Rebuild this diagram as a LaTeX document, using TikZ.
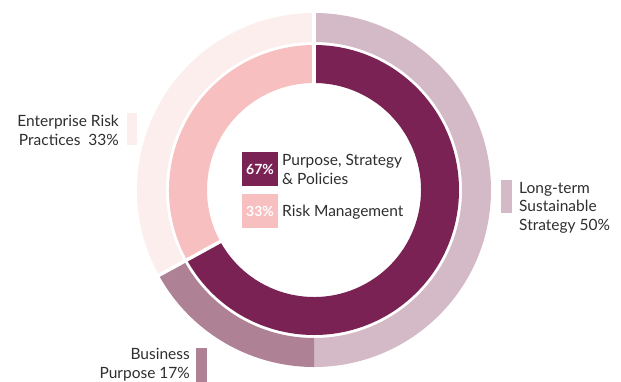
\documentclass[tikz,border=0pt]{standalone}
\usepackage{fontspec}
\setmainfont{Lato}
\usepackage{tikz}
\usetikzlibrary{calc}
\usetikzlibrary{positioning}

\definecolor{plum}{HTML}{7B2255}
\definecolor{rosepink}{HTML}{F7BFBF}
\definecolor{mauvelight}{HTML}{D4B9C6}
\definecolor{mauvemid}{HTML}{AE8195}
\definecolor{blush}{HTML}{FBEEED}
\definecolor{txtgrey}{HTML}{2E2E2E}

\begin{document}
\begin{tikzpicture}[x=1pt, y=1pt,
    lbl/.style={font=\fontsize{15.5}{18.5}\selectfont, text=txtgrey, inner sep=0},
    key/.style={minimum width=36, minimum height=34, inner sep=0, text=white,
      font=\fontsize{14}{16}\selectfont\bfseries},
    bar/.style={minimum width=11, minimum height=33, inner sep=0},
    sep/.style={white, line width=3.5}]
    \useasboundingbox (0,0) rectangle (621,-381);
    \coordinate (O) at (314,-190);

    % outer ring
    \fill[mauvelight] ($(O)+(90:177)$) arc[start angle=90, end angle=-90, radius=177]
      -- ($(O)+(-90:148)$) arc[start angle=-90, end angle=90, radius=148] -- cycle;
    \fill[mauvemid] ($(O)+(-90:177)$) arc[start angle=-90, end angle=-151.2, radius=177]
      -- ($(O)+(-151.2:148)$) arc[start angle=-151.2, end angle=-90, radius=148] -- cycle;
    \fill[blush] ($(O)+(208.8:177)$) arc[start angle=208.8, end angle=90, radius=177]
      -- ($(O)+(90:148)$) arc[start angle=90, end angle=208.8, radius=148] -- cycle;

    % inner ring
    \fill[plum] ($(O)+(90:145)$) arc[start angle=90, end angle=-151.2, radius=145]
      -- ($(O)+(-151.2:107)$) arc[start angle=-151.2, end angle=90, radius=107] -- cycle;
    \fill[rosepink] ($(O)+(208.8:145)$) arc[start angle=208.8, end angle=90, radius=145]
      -- ($(O)+(90:107)$) arc[start angle=90, end angle=208.8, radius=107] -- cycle;

    \coordinate (top) at ($(O)+(90:180)$);
    \coordinate (cut) at ($(O)+(208.8:180)$);
    \draw[sep] (O) -- (top);
    \draw[sep] (O) -- (cut);

    % legend in the middle
    \node[key, fill=plum] (k67) at (260,-169) {67\%};
    \node[key, fill=rosepink] (k33) at (260,-211) {33\%};
    \node[lbl, anchor=base west, align=left] (t67) at (282,-184) {Purpose, Strategy\\\& Policies};
    \node[lbl, anchor=base west] (t33) at (282,-216) {Risk Management};

    % outer labels
    \node[bar, fill=blush, minimum width=10, minimum height=32] (bEnt) at (132,-129) {};
    \node[lbl, anchor=base east, align=right] (lEnt) at (119,-145) {Enterprise Risk\\Practices~ 33\%};
    \node[bar, fill=mauvelight] (bLong) at (506.5,-196.5) {};
    \node[lbl, anchor=base west, align=left] (lLong) at (519,-230) {Long-term\\Sustainable\\Strategy 50\%};
    \node[bar, fill=mauvemid, minimum height=36] (bBus) at (201.5,-366) {};
    \node[lbl, anchor=base east, align=right] (lBus) at (190,-378) {Business\\Purpose 17\%};
\end{tikzpicture}
\end{document}
